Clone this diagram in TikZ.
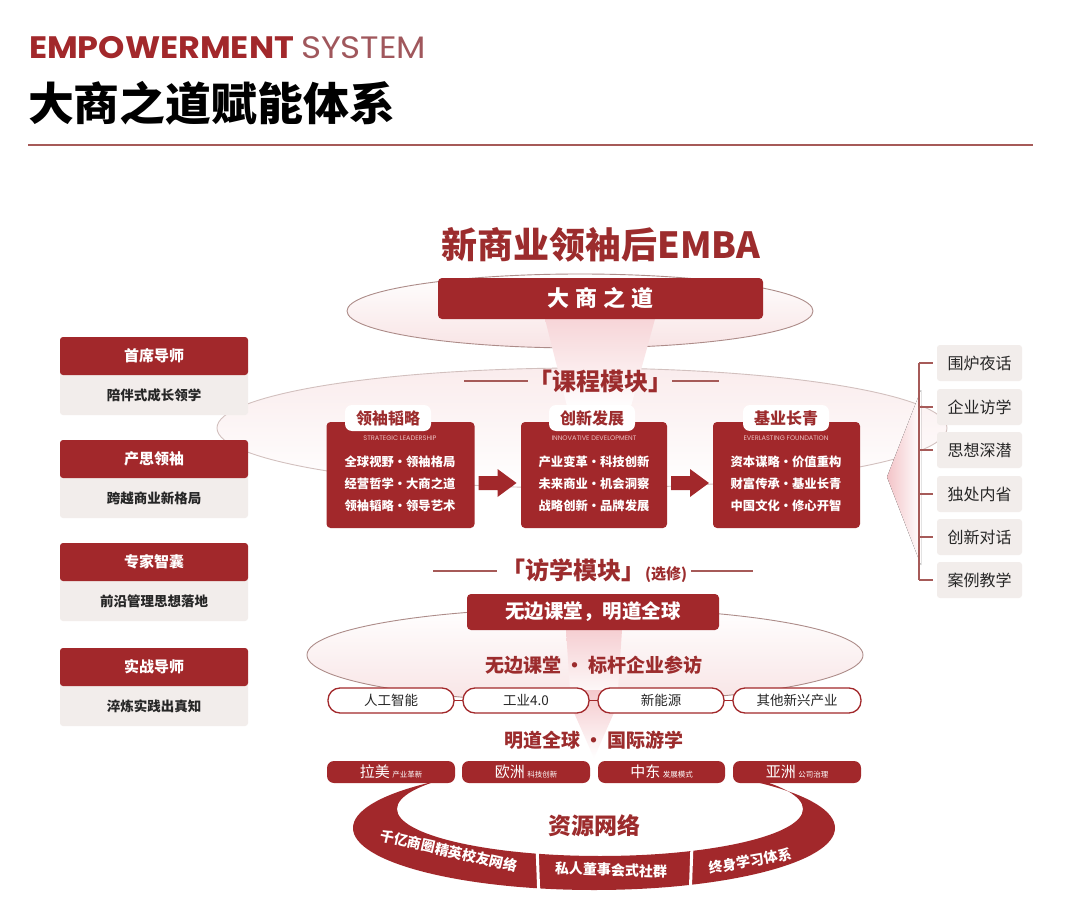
\documentclass[tikz,border=0pt]{standalone}
\usepackage{fontspec}
\newfontfamily\cjk{Noto Sans CJK SC}
\newfontfamily\pop{Poppins}
\usetikzlibrary{calc}
\definecolor{dr}{HTML}{A2282B}
\definecolor{drt}{HTML}{9C2C2D}
\definecolor{sys}{HTML}{A0575C}
\definecolor{gbox}{HTML}{F2EDEB}
\definecolor{pk}{HTML}{F3C3C7}
\definecolor{pkl}{HTML}{F8E4E5}
\definecolor{ell}{HTML}{AD8C89}
\definecolor{txt}{HTML}{262626}
\definecolor{rulec}{HTML}{A65A58}
\definecolor{subc}{HTML}{EBBFC0}
\tikzset{
  base/.style={inner sep=0pt, outer sep=0pt},
  fs/.style={font=\cjk\fontsize{#1}{#1}\selectfont},
  fsb/.style={font=\cjk\bfseries\fontsize{#1}{#1}\selectfont},
  redbox/.style={base, fill=dr, rounded corners=3pt, text=white},
  hdr/.style={redbox, minimum width=188pt, minimum height=38pt, fsb=15},
  bodybox/.style={base, fill=gbox, rounded corners=3pt, minimum width=188pt, minimum height=50pt},
  bodytxt/.style={base, fsb=13.5, text=txt},
  rbox/.style={base, fill=gbox, rounded corners=3pt, minimum width=85pt, minimum height=36pt, fs=16, text=txt},
  brk/.style={draw=rulec, line width=1.3pt},
  modbox/.style={redbox, rounded corners=4pt, minimum height=106pt},
  tab/.style={base, fill=white, rounded corners=7pt, minimum width=86pt, minimum height=26pt, fsb=16, text=drt},
  modsub/.style={base, font=\pop\fontsize{6.6}{6.6}\selectfont, text=subc},
  modrow/.style={base, fsb=12.3, text=white},
  blockarrow/.style={fill=dr},
  ellipseline/.style={draw=ell, line width=0.9pt},
  pill/.style={base, draw=dr, line width=1.3pt, fill=white, rounded corners=12pt, minimum height=25pt, fs=13.5, text=txt},
  cpill/.style={redbox, rounded corners=7pt, minimum height=22pt, minimum width=128pt, fs=15},
  sect/.style={base, fsb=19, text=drt},
  band/.style={base, fsb=14, text=white},
}
\newcommand{\smallsub}[1]{{\fontsize{7.5}{7.5}\selectfont #1}}
\begin{document}
\begin{tikzpicture}[x=1pt,y=-1pt]
\useasboundingbox (0,0) rectangle (1080,923);
\fill[white] (0,0) rectangle (1080,923);

% ---------- header ----------
\node[base, anchor=west, font=\pop\bfseries\fontsize{31}{31}\selectfont, text=dr, xscale=1.08, transform shape] (en1) at (29,48) {EMPOWERMENT};
\node[base, anchor=west, font=\pop\fontsize{31}{31}\selectfont, text=sys, xscale=1.1, transform shape] (en2) at ($(en1.east)+(7,0)$) {SYSTEM};
\node[base, anchor=west, font=\cjk\bfseries\fontsize{45}{45}\selectfont, text=black, xscale=1.02, transform shape] (zh) at (28,103) {大商之道赋能体系};
\coordinate (r0) at (28,145);
\coordinate (r1) at (1033,145);
\draw[rulec, line width=1.5pt] (r0) -- (r1);

% ---------- course ellipse ----------
\path[ellipseline, draw=ell!55, top color=pkl!70, bottom color=white] (582,428) ellipse (365 and 60);

% ---------- top ----------
\node[base, fsb=36, text=drt] (emba) at (601,245) {新商业领袖后EMBA};
\path[ellipseline, top color=white, bottom color=pkl] (580,311) ellipse (233 and 37);
\shade[top color=pk!70, bottom color=white] (545,319) -- (655,319) -- (630,410) -- (568,410) -- cycle;
\node[redbox, rounded corners=4pt, minimum width=325pt, minimum height=41pt, fsb=22] (dsz) at (600.5,298.5) {大\hspace{6pt}商\hspace{6pt}之\hspace{6pt}道};

\node[base, fsb=24, text=drt] (kc) at (600,381) {「课程模块」};
\draw[rulec, line width=1.2pt] ($(kc.west)+(-64,0)$) -- (kc.west);
\draw[rulec, line width=1.2pt] (kc.east) -- ($(kc.east)+(47,0)$);

% ---------- modules ----------
\node[modbox, minimum width=148pt] (m1) at (400.5,475) {};
\node[modbox, minimum width=146pt] (m2) at (594,475) {};
\node[modbox, minimum width=147pt] (m3) at (786.5,475) {};
\node[tab] (t1) at (388,418) {领袖韬略};
\node[tab] (t2) at (592,418) {创新发展};
\node[tab] (t3) at (786,418) {基业长青};
\node[modsub] at (400,438) {STRATEGIC LEADERSHIP};
\node[modsub] at (594,438) {INNOVATIVE DEVELOPMENT};
\node[modsub] at (786,438) {EVERLASTING FOUNDATION};
\node[modrow] at (400,462) {全球视野·领袖格局};
\node[modrow] at (400,484) {经营哲学·大商之道};
\node[modrow] at (400,506) {领袖韬略·领导艺术};
\node[modrow] at (594,462) {产业变革·科技创新};
\node[modrow] at (594,484) {未来商业·机会洞察};
\node[modrow] at (594,506) {战略创新·品牌发展};
\node[modrow] at (786,462) {资本谋略·价值重构};
\node[modrow] at (786,484) {财富传承·基业长青};
\node[modrow] at (786,506) {中国文化·修心开智};
% block arrows
\foreach \a/\b in {m1/m2, m2/m3}{
  \fill[blockarrow] ($(\a.east)+(4,1)$) -- ++(19,0) -- ++(0,-7) -- ++(19,14) -- ++(-19,14) -- ++(0,-7) -- ++(-19,0) -- cycle;
}

% ---------- left column ----------
\foreach \i/\y/\h/\b in {1/356/首席导师/陪伴式成长领学, 2/459/产思领袖/跨越商业新格局, 3/562/专家智囊/前沿管理思想落地, 4/667/实战导师/淬炼实践出真知}{
  \node[bodybox] (lb\i) at (154,\y+34) {};
  \node[bodytxt] (lt\i) at (154,\y+39.5) {\b};
  \node[hdr] (lh\i) at (154,\y) {\h};
}

% ---------- right column ----------
\fill[left color=pk, right color=white] (887,477) -- (921,390) -- (921,565) -- cycle;
\foreach \i/\y/\t in {1/363/围炉夜话, 2/407/企业访学, 3/450/思想深潜, 4/494/独处内省, 5/537/创新对话, 6/580/案例教学}{
  \node[rbox] (rb\i) at (979.5,\y) {\t};
  \draw[brk] ($(rb\i.west)+(-18,0)$) -- ($(rb\i.west)+(-4,0)$);
}
\draw[brk] ($(rb1.west)+(-18,0)$) -- ($(rb6.west)+(-18,0)$);

% ---------- visit module ----------
\node[base, fsb=24, text=drt] (fx) at (594,571) {「访学模块」{\fontsize{15}{15}\selectfont(选修)}};
\draw[rulec, line width=1.2pt] ($(fx.west)+(-68,0)$) -- ($(fx.west)+(-4,0)$);
\draw[rulec, line width=1.2pt] ($(fx.east)+(4,0)$) -- ($(fx.east)+(66,0)$);

\path[ellipseline, top color=white, bottom color=pkl] (585,655) ellipse (278 and 47);
\shade[top color=pk!80, bottom color=pkl!30] (566,630) -- (622,630) -- (618,690) -- (570,690) -- cycle;
\node[redbox, rounded corners=4pt, minimum width=252pt, minimum height=36pt, fsb=19.5] (wb) at (593,612) {无边课堂，明道全球};
\node[sect] (s1) at (594,665) {无边课堂 · 标杆企业参访};

\shade[top color=pk!90, bottom color=white] (564,690) -- (624,690) -- (594,758) -- cycle;

\node[pill, minimum width=126pt] (p1) at (391,700.5) {人工智能};
\node[pill, minimum width=126pt] (p2) at (526,700.5) {工业4.0};
\node[pill, minimum width=126pt] (p3) at (661,700.5) {新能源};
\node[pill, minimum width=128pt] (p4) at (797,700.5) {其他新兴产业};
\draw[dr, line width=1.3pt] (p1.east) -- (p2.west);
\draw[dr, line width=1.3pt] (p2.east) -- (p3.west);
\draw[dr, line width=1.3pt] (p3.east) -- (p4.west);

\node[sect] (s2) at (594,740) {明道全球 · 国际游学};

% ---------- resource crescent ----------
\begin{scope}
  \clip (300,778) rectangle (900,905);
  \fill[dr, even odd rule] (594,828) ellipse (241 and 62) (600,809) ellipse (203 and 47);
\end{scope}
\draw[white, line width=3pt] (537,845) -- (539,900);
\draw[white, line width=3pt] (692,845) -- (690,900);

\node[cpill] (c1) at (391,772) {拉美\,\smallsub{产业革新}};
\node[cpill] (c2) at (526,772) {欧洲\,\smallsub{科技创新}};
\node[cpill, minimum width=127pt] (c3) at (661.5,772) {中东\,\smallsub{发展模式}};
\node[cpill] (c4) at (797,772) {亚洲\,\smallsub{公司治理}};

\node[base, fsb=23, text=drt] (zy) at (594,826) {资源网络};
\node[band, rotate=-13] (n1) at (449,851) {千亿商圈精英校友网络};
\node[band, rotate=-2] (n2) at (611,870) {私人董事会式社群};
\node[band, rotate=10] (n3) at (750,861) {终身学习体系};
\end{tikzpicture}
\end{document}
